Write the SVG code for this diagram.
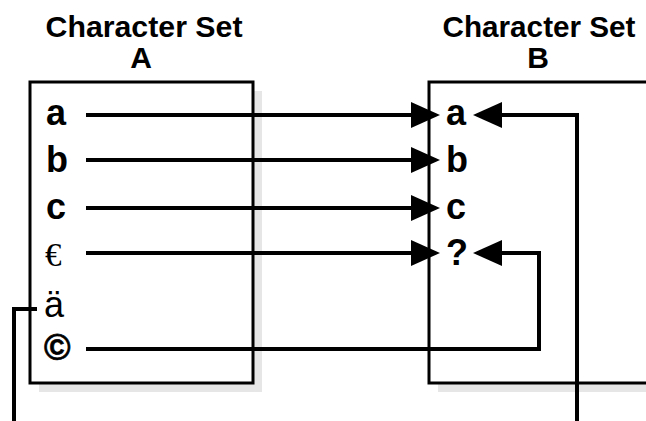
<svg xmlns="http://www.w3.org/2000/svg" width="646" height="421" viewBox="0 0 646 421">
<style>
.title{font-family:"Liberation Sans",Arial,sans-serif;font-weight:bold;font-size:30px;text-anchor:middle;fill:#000}
.ch{font-family:"Liberation Sans",Arial,sans-serif;font-weight:bold;font-size:36px;fill:#000}
.reg{font-family:"Liberation Sans",Arial,sans-serif;font-size:36px;fill:#000}
.ser{font-family:"Liberation Serif","Times New Roman",serif;font-size:33px;fill:#000}
.heavy{stroke:#000;stroke-width:0.7}
.shadow{fill:#e6e6e6;stroke:none}
.box{fill:#fff;stroke:#000;stroke-width:3}
.conn{fill:none;stroke:#000;stroke-width:4}
</style>
<defs>
<marker id="arrow" markerUnits="userSpaceOnUse" markerWidth="29" markerHeight="26" refX="8" refY="13" orient="auto">
<path d="M0,0 L29,13 L0,26 z" fill="#000"/>
</marker>
</defs>
<g id="setA">
<rect class="shadow" x="39" y="91" width="223" height="301"/>
<rect class="box" x="30" y="82" width="223" height="301"/>
<text class="title" x="144" y="37" textLength="197" lengthAdjust="spacingAndGlyphs">Character Set</text>
<text class="title" x="141" y="68">A</text>
<text class="ch" x="46" y="125">a</text>
<text class="ch" x="46" y="172">b</text>
<text class="ch" x="46" y="219">c</text>
<text class="ser" x="45" y="266">€</text>
<text class="reg" x="44" y="317">ä</text>
<text class="ch heavy" x="44" y="360" font-size="38">©</text>
</g>
<g id="setB">
<rect class="shadow" x="438" y="91" width="240" height="301"/>
<rect class="box" x="429" y="82" width="240" height="301"/>
<text class="title" x="539" y="37" textLength="193" lengthAdjust="spacingAndGlyphs">Character Set</text>
<text class="title" x="538" y="68">B</text>
<text class="ch" x="446" y="125">a</text>
<text class="ch" x="446" y="172">b</text>
<text class="ch" x="446" y="219">c</text>
<text class="ch" x="446" y="265">?</text>
</g>
<g id="connectors">
<path class="conn" d="M86,115 H419" marker-end="url(#arrow)"/>
<path class="conn" d="M86,160 H419" marker-end="url(#arrow)"/>
<path class="conn" d="M86,208 H419" marker-end="url(#arrow)"/>
<path class="conn" d="M86,253 H419" marker-end="url(#arrow)"/>
<path class="conn" d="M577,421 V115 H494" marker-end="url(#arrow)"/>
<path class="conn" d="M86,349 H539 V253 H494" marker-end="url(#arrow)"/>
<path class="conn" d="M37,309 H14 V421"/>
</g>
</svg>
